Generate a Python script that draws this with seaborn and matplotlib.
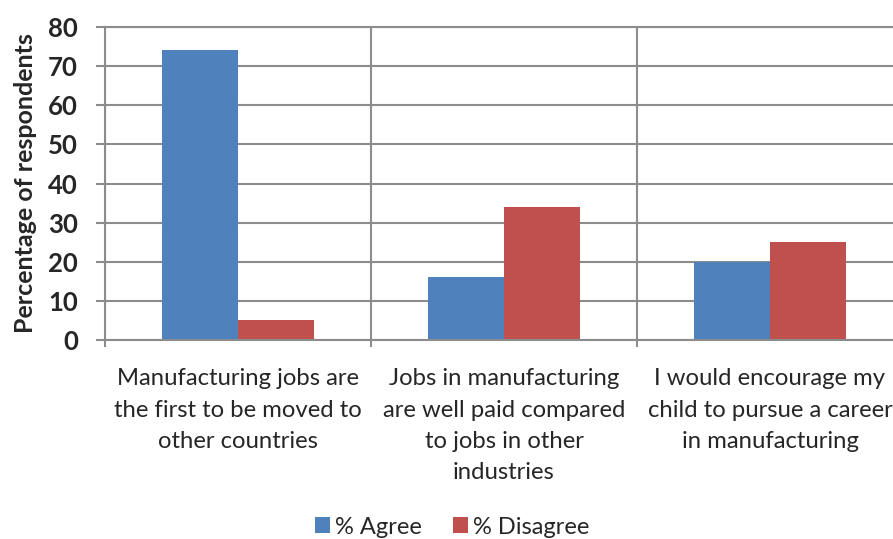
import matplotlib
matplotlib.use("Agg")
import matplotlib.pyplot as plt
import seaborn as sns
import pandas as pd
from matplotlib.patches import Patch

# Survey results
statements = [
    "Manufacturing jobs are\nthe first to be moved to\nother countries",
    "Jobs in manufacturing\nare well paid compared\nto jobs in other\nindustries",
    "I would encourage my\nchild to pursue a career\nin manufacturing",
]
series = ["% Agree", "% Disagree"]
agree = [74, 16, 20]
disagree = [5, 34, 25]
colors = ["#4F81BD", "#C0504D"]
y_ticks = [0, 10, 20, 30, 40, 50, 60, 70, 80]

df = pd.DataFrame({
    "statement": statements * 2,
    "response": [series[0]] * 3 + [series[1]] * 3,
    "value": agree + disagree,
})

sns.set_theme(style="white")
plt.rcParams["font.family"] = ["Lato", "DejaVu Sans"]

W, H = 893, 539
fig = plt.figure(figsize=(W / 100, H / 100), dpi=100)
ax = fig.add_axes([105 / W, 1 - 340 / H, 798 / W, 313 / H])

sns.barplot(data=df, x="statement", y="value", hue="response",
            palette=colors, width=0.57, ax=ax, legend=False,
            saturation=1, linewidth=0)

grid_c = "#8C8C8C"
ax.set_ylim(0, 80)
ax.set_xlim(-0.5, 2.5)
ax.set_yticks(y_ticks)
ax.set_yticklabels([str(t) for t in y_ticks], fontsize=18.5, fontweight="bold")
ax.yaxis.grid(True, color=grid_c, linewidth=1.5)
ax.set_axisbelow(True)
ax.tick_params(axis="y", length=6.5, width=1.5, color=grid_c, pad=13, left=True)

# category boundaries as vertical gridlines with ticks
ax.set_xticks([-0.5, 0.5, 1.5, 2.5], minor=True)
ax.xaxis.grid(True, which="minor", color=grid_c, linewidth=1.5)
ax.tick_params(axis="x", which="minor", length=5, width=1.5, color=grid_c, bottom=True)
ax.tick_params(axis="x", which="major", length=0, pad=20.5, labelsize=17.2)
for lbl in ax.get_xticklabels():
    lbl.set_linespacing(1.6)

for s in ax.spines.values():
    s.set_color(grid_c)
    s.set_linewidth(1.5)

ax.set_xlabel("")
ax.set_ylabel("Percentage of respondents", fontsize=18, fontweight="bold", labelpad=8)

handles = [Patch(facecolor=c, edgecolor="none") for c in colors]
fig.legend(handles, series, loc="center", bbox_to_anchor=(452 / W, 1 - 527 / H),
           ncol=2, frameon=False, fontsize=17, handlelength=0.65, handleheight=0.65,
           handletextpad=0.2, columnspacing=1.3, borderpad=0)

fig.savefig("out.png", dpi=100)
